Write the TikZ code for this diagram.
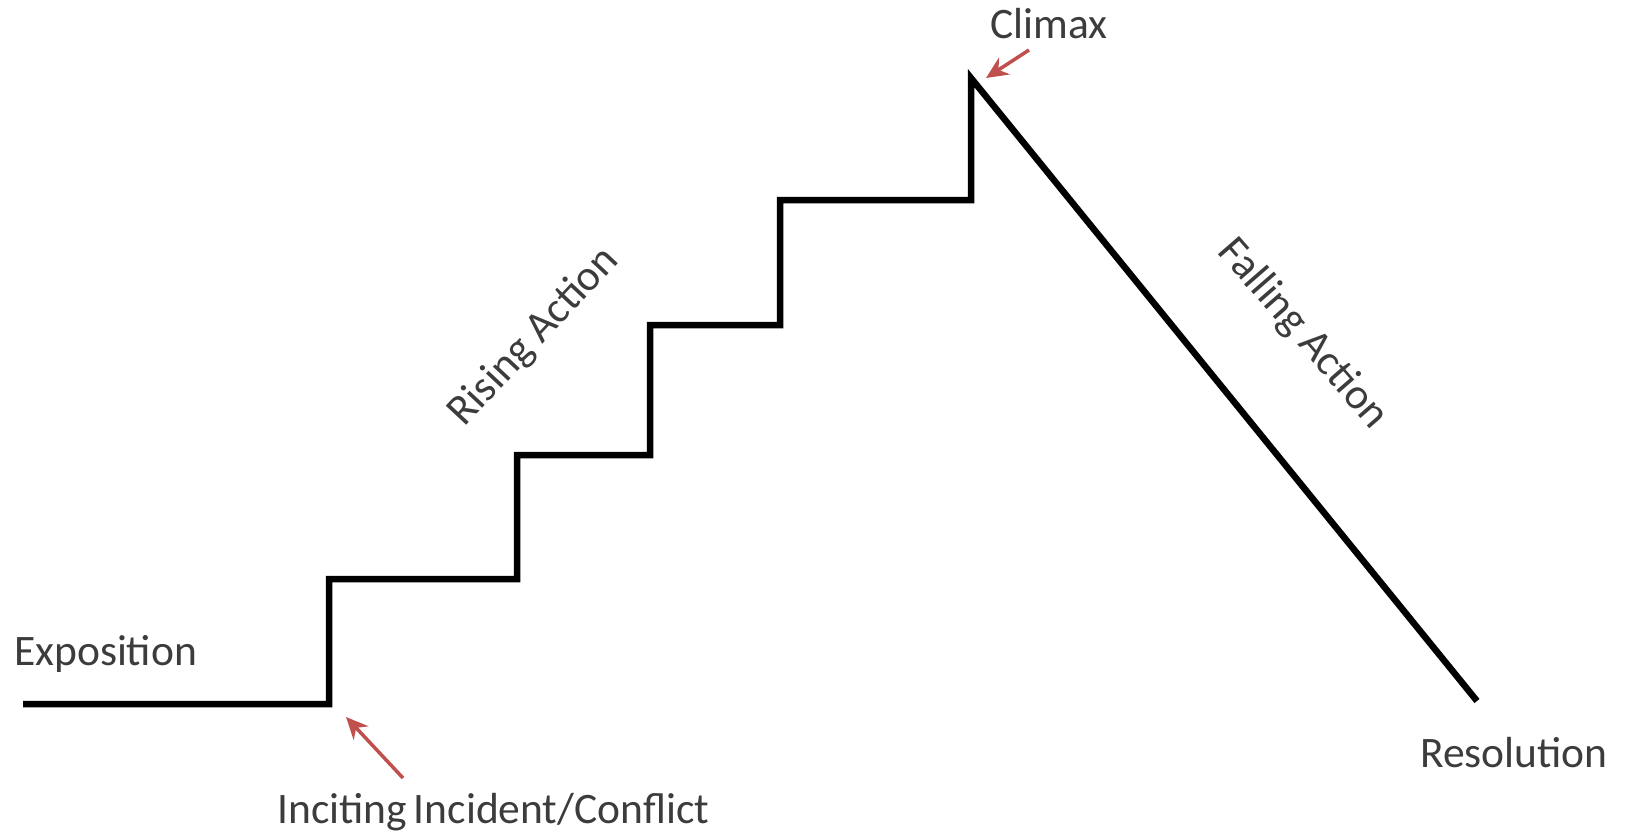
\documentclass[tikz,border=0pt]{standalone}
\usepackage{fontspec}
\setmainfont{Carlito}
\usetikzlibrary{arrows.meta}
\definecolor{txtgray}{HTML}{3C3C3C}
\definecolor{arrred}{HTML}{C0504D}
\begin{document}
\begin{tikzpicture}[x=1pt,y=-1pt,
  lbl/.style={text=txtgray,inner sep=0pt,font=\fontsize{43.5}{52}\selectfont},
  stair/.style={line width=6.5pt,black,line join=miter},
  pointer/.style={arrred,line width=3.5pt,-{Stealth[length=22pt,width=20pt]}}]
\useasboundingbox[fill=white] (0,0) rectangle (1628,839);
\coordinate (p0) at (23,704);
\coordinate (p1) at (329,704);
\coordinate (p2) at (329,579);
\coordinate (p3) at (517,579);
\coordinate (p4) at (517,455);
\coordinate (p5) at (650,455);
\coordinate (p6) at (650,325);
\coordinate (p7) at (780,325);
\coordinate (p8) at (780,200);
\coordinate (p9) at (971,200);
\coordinate (p10) at (971,78);
\coordinate (p11) at (1477,701);
\draw[stair] (p0) -- (p1) -- (p2) -- (p3) -- (p4) -- (p5) -- (p6) -- (p7) -- (p8) -- (p9) -- (p10) -- (p11);
\node[lbl,anchor=base west] (expo) at (14,665) {Exposition};
\node[lbl,anchor=base west] (climax) at (990,38) {Climax};
\node[lbl,anchor=base west] (incite) at (277,823) {Inciting\hspace{0.16em}Incident/Conflict};
\node[lbl,anchor=base west] (resol) at (1420,767) {Resolution};
\node[lbl,rotate=47] (rising) at (534,337) {Rising Action};
\node[lbl,rotate=-49] (falling) at (1303,334) {Falling Action};
\coordinate (ca0) at (1029,50);
\coordinate (ca1) at (986,78);
\coordinate (ia0) at (403,778);
\coordinate (ia1) at (346,717);
\draw[pointer] (ca0) -- (ca1);
\draw[pointer] (ia0) -- (ia1);
\end{tikzpicture}
\end{document}
